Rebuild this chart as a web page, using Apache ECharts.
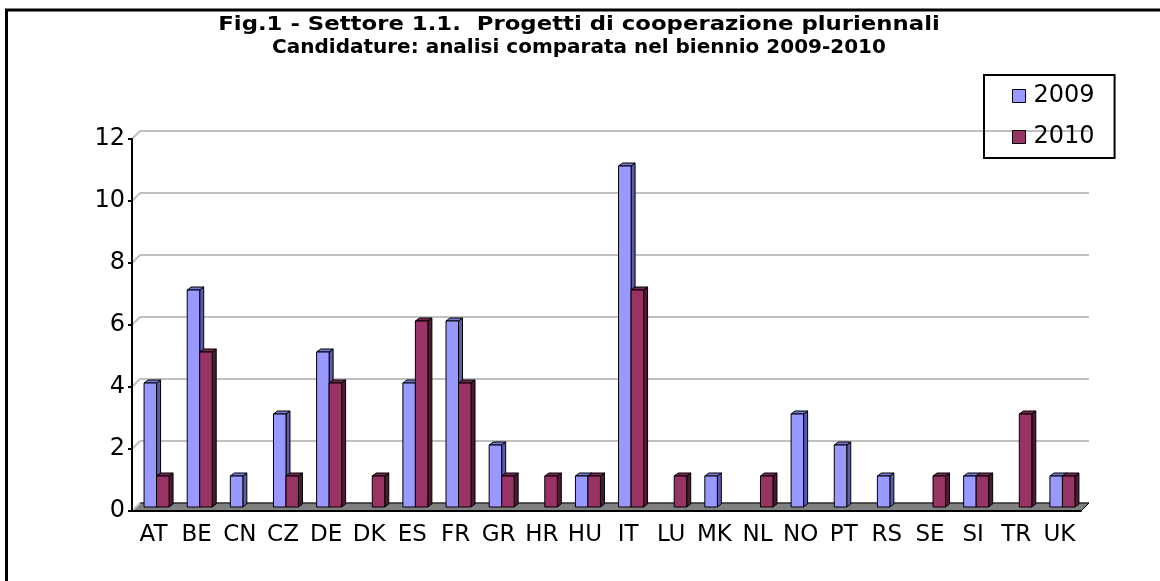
<!DOCTYPE html>
<html>
<head>
<meta charset="utf-8">
<script src="https://cdn.jsdelivr.net/npm/echarts@6/dist/echarts.min.js"></script>
<style>
  html, body { margin: 0; padding: 0; background: #fff; }
  #main { width: 1160px; height: 581px; }
</style>
</head>
<body>
<div id="main"></div>
<script>
// dati
var paesi = ['AT', 'BE', 'CN', 'CZ', 'DE', 'DK', 'ES', 'FR', 'GR', 'HR', 'HU', 'IT', 'LU', 'MK', 'NL', 'NO', 'PT', 'RS', 'SE', 'SI', 'TR', 'UK'];
var anno2009 = [4, 7, 1, 3, 5, 0, 4, 6, 2, 0, 1, 11, 0, 1, 0, 3, 2, 1, 0, 1, 0, 1];
var anno2010 = [1, 5, 0, 1, 4, 1, 6, 4, 1, 1, 1, 7, 1, 0, 1, 0, 0, 0, 1, 1, 3, 1];
var tickY = [0, 2, 4, 6, 8, 10, 12];
var titolo1 = 'Fig.1 - Settore 1.1.  Progetti di cooperazione pluriennali';
var titolo2 = 'Candidature: analisi comparata nel biennio 2009-2010';

var FONT = 'DejaVu Sans';
var DX = 4, DY = -3;     // profondita barre
var WALL = 8;            // profondita parete

// barre 3d stile excel
function bar3d(pos, front, side, top) {
     return function (params, api) {
          var v = api.value(1);
          if (!v) return;
          var i = api.value(0);
          var base = api.coord([i, 0]);
          var tip = api.coord([i, v]);
          var w = 12.5;
          var x0 = base[0] - 9.5 + pos * w;
          var x1 = x0 + w;
          var yb = base[1] - 4;
          var yt = tip[1] - 4;
          var st = { stroke: '#000', lineWidth: 1 };
          return {
               type: 'group',
               children: [
                    { type: 'polygon', shape: { points: [[x1, yt], [x1 + DX, yt + DY], [x1 + DX, yb + DY], [x1, yb]] },
                      style: Object.assign({ fill: side }, st) },
                    { type: 'polygon', shape: { points: [[x0, yt], [x0 + DX, yt + DY], [x1 + DX, yt + DY], [x1, yt]] },
                      style: Object.assign({ fill: top }, st) },
                    { type: 'rect', shape: { x: x0, y: yt, width: w, height: yb - yt },
                      style: Object.assign({ fill: front }, st) }
               ]
          };
     };
}

// pavimento + raccordi diagonali
function floorItem(params, api) {
     var cs = params.coordSys;
     var yy = api.coord([0, api.value(1)])[1];
     var children = [
          { type: 'line', shape: { x1: cs.x, y1: yy, x2: cs.x + WALL, y2: yy - WALL },
            style: { stroke: '#c0c0c0', lineWidth: 2 } }
     ];
     if (params.dataIndex === 0) {
          var yf = cs.y + cs.height;
          children.unshift({
               type: 'polygon',
               shape: { points: [[cs.x, yf], [cs.x + cs.width, yf], [cs.x + cs.width + WALL, yf - WALL], [cs.x + WALL, yf - WALL]] },
               style: { fill: '#808080', stroke: '#000', lineWidth: 1 }
          });
     }
     return { type: 'group', children: children };
}

var myChart = echarts.init(document.getElementById('main'));
var option = {
     backgroundColor: '#fff',
     animation: false,
     legend: {
          orient: 'vertical',
          left: 984,
          top: 75,
          padding: [8, 20, 8, 28],
          borderColor: '#000',
          borderWidth: 2,
          itemWidth: 13,
          itemHeight: 13,
          itemGap: 15,
          icon: 'rect',
          selectedMode: false,
          itemStyle: { borderColor: '#000', borderWidth: 1 },
          textStyle: { fontFamily: FONT, fontSize: 24, lineHeight: 26, color: '#000', padding: [0, 0, 0, 3] },
          data: ['2009', '2010']
     },
     grid: [
          { left: 132, right: 79, top: 139, bottom: 70 },
          { left: 140, right: 71, top: 131, bottom: 78 }
     ],
     xAxis: [
          {
               type: 'category', gridIndex: 0, data: paesi, z: 5,
               axisLine: { lineStyle: { color: '#000', width: 2 } },
               axisTick: { length: 6, lineStyle: { color: '#000', width: 2 } },
               axisLabel: { interval: 0, margin: 13, fontFamily: FONT, fontSize: 23, color: '#000' }
          },
          { type: 'category', gridIndex: 1, data: paesi, show: false }
     ],
     yAxis: [
          {
               type: 'value', gridIndex: 0, min: 0, max: 12, interval: 2, z: 5,
               axisLine: { show: true, lineStyle: { color: '#000', width: 2 } },
               axisTick: { show: true, length: 4, lineStyle: { color: '#000', width: 2 } },
               axisLabel: { margin: 7, fontFamily: FONT, fontSize: 24, color: '#000' },
               splitLine: { show: false }
          },
          {
               type: 'value', gridIndex: 1, min: 0, max: 12, interval: 2,
               axisLine: { show: false }, axisTick: { show: false }, axisLabel: { show: false },
               splitLine: { lineStyle: { color: '#c0c0c0', width: 2 } }
          }
     ],
     series: [
          {
               type: 'custom', name: 'floor', xAxisIndex: 0, yAxisIndex: 0, z: 1, silent: true,
               renderItem: floorItem,
               data: tickY.map(function (v) { return [0, v]; })
          },
          {
               type: 'custom', name: '2009', xAxisIndex: 0, yAxisIndex: 0, z: 2,
               itemStyle: { color: '#9999ff' },
               renderItem: bar3d(0, '#9999ff', '#5c5cab', '#7a7ad6'),
               data: anno2009.map(function (v, i) { return [i, v]; })
          },
          {
               type: 'custom', name: '2010', xAxisIndex: 0, yAxisIndex: 0, z: 3,
               itemStyle: { color: '#993366' },
               renderItem: bar3d(1, '#993366', '#4d1a33', '#7a2952'),
               data: anno2010.map(function (v, i) { return [i, v]; })
          }
     ],
     graphic: [
          { type: 'line', shape: { x1: 6.5, y1: 10, x2: 6.5, y2: 581 }, style: { stroke: '#000', lineWidth: 3 } },
          { type: 'line', shape: { x1: 5, y1: 10, x2: 1160, y2: 10 }, style: { stroke: '#000', lineWidth: 3 } },
          {
               type: 'text', x: 579, y: 25, scaleX: 1.14,
               style: { text: titolo1, fontFamily: FONT, fontWeight: 'bold', fontSize: 20, fill: '#000',
                        align: 'center', verticalAlign: 'middle' }
          },
          {
               type: 'text', x: 579, y: 48, scaleX: 1.0,
               style: { text: titolo2, fontFamily: FONT, fontWeight: 'bold', fontSize: 20, fill: '#000',
                        align: 'center', verticalAlign: 'middle' }
          }
     ]
};
myChart.setOption(option);
</script>
</body>
</html>
